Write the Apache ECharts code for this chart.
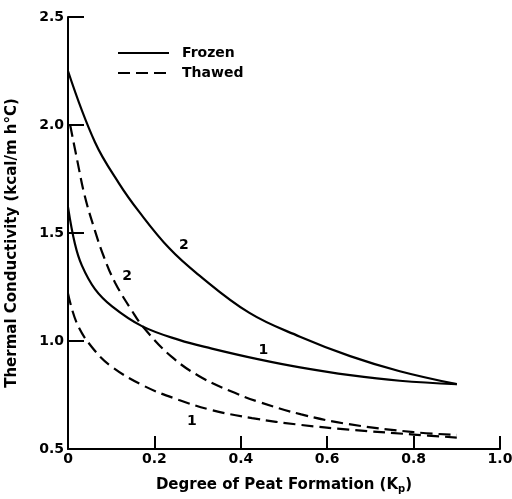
<!DOCTYPE html>
<html>
<head>
<meta charset="utf-8">
<script src="https://cdn.jsdelivr.net/npm/echarts@6/dist/echarts.min.js"></script>
<style>html,body{margin:0;padding:0;background:#fff}#c{width:512px;height:499px}</style>
</head>
<body>
<div id="c"></div>
<script>
// Data
var xTicks = [0, 0.2, 0.4, 0.6, 0.8, 1.0];
var yTicks = [0.5, 1.0, 1.5, 2.0, 2.5];
var frozen1 = [[0,1.62],[0.016,1.45],[0.032,1.35],[0.0625,1.24],[0.102,1.16],[0.17,1.07],[0.257,1.005],[0.333,0.965],[0.442,0.915],[0.537,0.878],[0.653,0.842],[0.768,0.816],[0.9,0.80]];
var frozen2 = [[0,2.25],[0.0625,1.92],[0.118,1.73],[0.164,1.60],[0.234,1.43],[0.3,1.31],[0.42,1.13],[0.537,1.02],[0.653,0.93],[0.768,0.86],[0.9,0.80]];
var thawed1 = [[0,1.22],[0.021,1.08],[0.056,0.97],[0.102,0.88],[0.178,0.79],[0.257,0.727],[0.333,0.68],[0.426,0.643],[0.537,0.612],[0.65,0.59],[0.8,0.567],[0.9,0.553]];
var thawed2 = [[0.005,2.0],[0.021,1.84],[0.039,1.67],[0.0625,1.51],[0.083,1.39],[0.109,1.27],[0.148,1.14],[0.176,1.06],[0.241,0.925],[0.31,0.83],[0.386,0.76],[0.442,0.718],[0.54,0.66],[0.65,0.615],[0.8,0.578],[0.9,0.565]];
var curveLabels = [
  {name:'2', value:[0.268,1.445]},
  {name:'1', value:[0.452,0.958]},
  {name:'2', value:[0.137,1.30]},
  {name:'1', value:[0.287,0.63]}
];

var font = 'DejaVu Sans';
var chart = echarts.init(document.getElementById('c'), null, {renderer:'canvas'});
var solid = {color:'#000', width:2.2, type:'solid'};
var dashed = {color:'#000', width:2.2, type:[12,6]};
function lineSeries(name, data, ls){
  return {name:name, type:'line', data:data, smooth:0.4, symbol:'none', showSymbol:false,
    lineStyle:ls, itemStyle:{color:'#000'}, silent:true, animation:false};
}
chart.setOption({
  animation:false,
  backgroundColor:'#fff',
  grid:{left:68, right:12, top:17, bottom:50, containLabel:false, outerBoundsMode:'none'},
  legend:{
    data:['Frozen','Thawed'], orient:'vertical', left:112, top:41,
    itemWidth:51, itemHeight:14, itemGap:6, selectedMode:false,
    itemStyle:{opacity:0},
    textStyle:{fontFamily:font, fontWeight:'bold', fontSize:14, color:'#000', padding:[0,0,0,8]}
  },
  xAxis:{
    type:'value', min:0, max:1, interval:0.2,
    name:'Degree of Peat Formation (K{sub|p})', nameLocation:'middle', nameGap:27,
    nameTextStyle:{fontFamily:font, fontWeight:'bold', fontSize:15, color:'#000',
      rich:{sub:{fontFamily:font, fontWeight:'bold', fontSize:10, color:'#000', verticalAlign:'bottom', padding:[8,0,0,0]}}},
    axisLine:{show:true, lineStyle:{color:'#000', width:2}},
    axisTick:{show:true, inside:true, length:13, lineStyle:{color:'#000', width:2}},
    axisLabel:{fontFamily:font, fontWeight:'bold', fontSize:14, color:'#000', margin:3,
      formatter:function(v){ return v===0 ? '0' : v.toFixed(1); }},
    splitLine:{show:false}
  },
  yAxis:{
    type:'value', min:0.5, max:2.5, interval:0.5,
    name:'Thermal Conductivity (kcal/m h°C)', nameLocation:'middle', nameGap:48, nameRotate:90,
    nameTextStyle:{fontFamily:font, fontWeight:'bold', fontSize:15, color:'#000', padding:[0,20,0,0]},
    axisLine:{show:true, lineStyle:{color:'#000', width:2}},
    axisTick:{show:true, inside:true, length:16, lineStyle:{color:'#000', width:2}},
    axisLabel:{fontFamily:font, fontWeight:'bold', fontSize:14, color:'#000', margin:4,
      formatter:function(v){ return v.toFixed(1); }},
    splitLine:{show:false}
  },
  series:[
    lineSeries('Frozen', frozen1, solid),
    lineSeries('Frozen', frozen2, solid),
    lineSeries('Thawed', thawed1, dashed),
    lineSeries('Thawed', thawed2, dashed),
    {name:'labels', type:'scatter', data:curveLabels, symbolSize:0, silent:true,
     itemStyle:{opacity:1, color:'#000'},
     label:{show:true, position:'inside', formatter:'{b}', fontFamily:font, fontWeight:'bold', fontSize:14, color:'#000', textBorderWidth:0}}
  ]
});
</script>
</body>
</html>
